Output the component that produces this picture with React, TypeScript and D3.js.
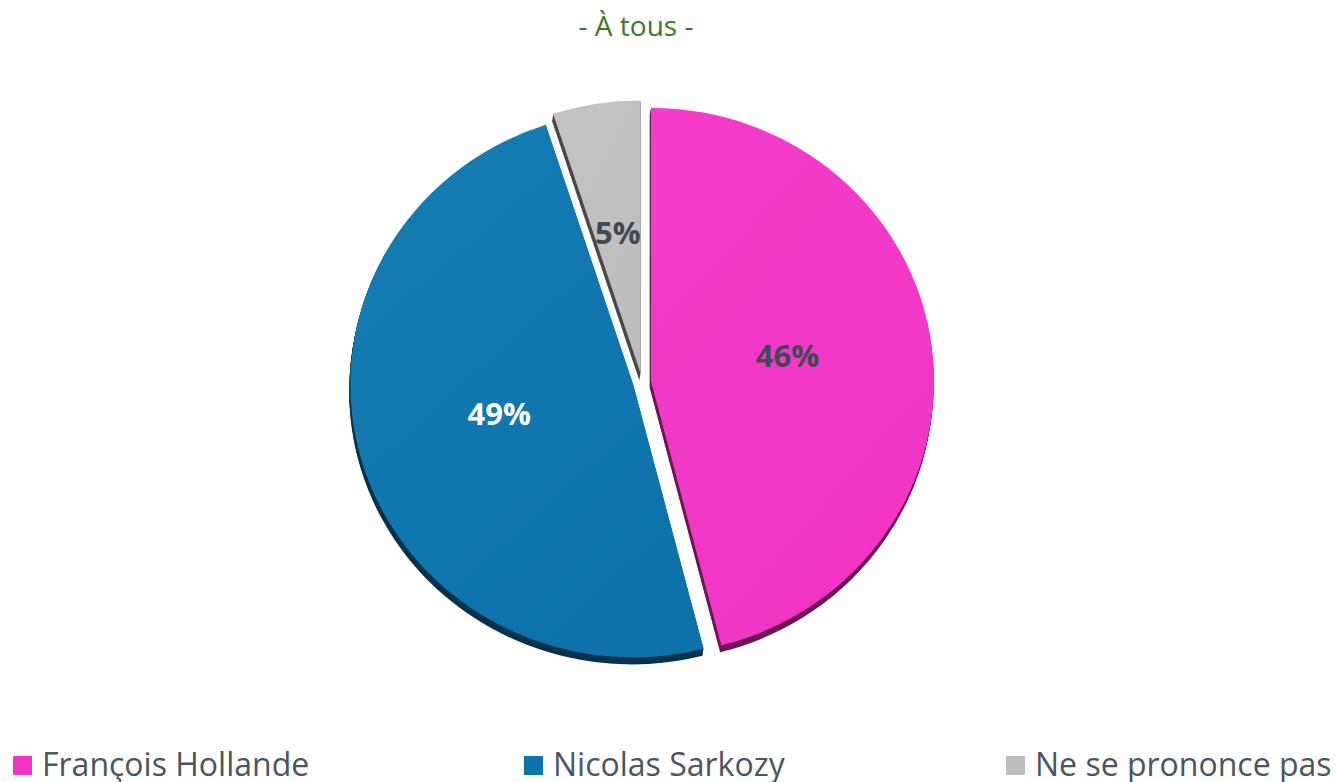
import React from "react";
import * as d3 from "d3";

const categories = ["François Hollande", "Nicolas Sarkozy", "Ne se prononce pas"];
const values = [46, 49, 5];
const labels = ["46%", "49%", "5%"];
const colors = ["#f035c4", "#0d72aa", "#bdbdbd"];
const lightColors = ["#f33dca", "#157db5", "#c3c3c3"];
const darkColors = ["#6c1552", "#07324d", "#484848"];
const labelColors = ["#3f4a55", "#ffffff", "#3f4a55"];
const title = "- À tous -";

const W = 1336;
const H = 782;

export default function App() {
  const cx = 642;
  const cy = 382;
  const ry = 273;
  const rx = 283;
  const sx = rx / ry;
  const explode = 8.7;
  const depth = 7;
  const depthX = -1.2;

  const pie = d3.pie<number>().sort(null).value((d) => d);
  const arcs = pie(values);
  const arcGen = d3.arc<d3.PieArcDatum<number>>().innerRadius(0).outerRadius(ry);

  const legendX = [13, 524, 1006];

  return (
    <svg
      width={W}
      height={H}
      style={{ position: "absolute", left: 0, top: 0, background: "#fff" }}
    >
      <defs>
        {arcs.map((a, i) => (
          <linearGradient key={i} id={`g${i}`} x1="0" y1="0" x2="0.6" y2="1">
            <stop offset="0" stopColor={lightColors[i]} />
            <stop offset="1" stopColor={colors[i]} />
          </linearGradient>
        ))}
      </defs>
      <text
        x={636}
        y={36}
        textAnchor="middle"
        fontFamily="'Open Sans', sans-serif"
        fontSize={28}
        fill="#3b7a1f"
      >
        {title}
      </text>
      <g transform={`translate(${cx},${cy}) scale(${sx},1)`}>
        {arcs.map((a, i) => {
          const mid = (a.startAngle + a.endAngle) / 2;
          const ox = Math.sin(mid) * explode;
          const oy = -Math.cos(mid) * explode;
          const steps = d3.range(1, depth + 1);
          return (
            <g key={"s" + i} transform={`translate(${ox},${oy})`}>
              {steps.map((s) => (
                <path
                  key={s}
                  d={arcGen(a) || ""}
                  transform={`translate(${(depthX * s) / depth / sx},${s})`}
                  fill={darkColors[i]}
                />
              ))}
            </g>
          );
        })}
        {arcs.map((a, i) => {
          const mid = (a.startAngle + a.endAngle) / 2;
          const ox = Math.sin(mid) * explode;
          const oy = -Math.cos(mid) * explode;
          return (
            <path
              key={"p" + i}
              d={arcGen(a) || ""}
              transform={`translate(${ox},${oy})`}
              fill={`url(#g${i})`}
            />
          );
        })}
      </g>
      {arcs.map((a, i) => {
        const mid = (a.startAngle + a.endAngle) / 2;
        const k = explode / ry + 0.49;
        const lx = cx + Math.sin(mid) * rx * k;
        const ly = cy - Math.cos(mid) * ry * k;
        return (
          <text
            key={"l" + i}
            x={lx - 1}
            y={ly + 3}
            textAnchor="middle"
            fontFamily="'Open Sans', sans-serif"
            fontWeight="bold"
            fontSize={31}
            fill={labelColors[i]}
          >
            {labels[i]}
          </text>
        );
      })}
      {categories.map((c, i) => (
        <g key={"lg" + i}>
          <rect x={legendX[i]} y={756} width={19} height={19} fill={colors[i]} />
          <text
            x={legendX[i] + 29}
            y={776}
            fontFamily="'Open Sans', sans-serif"
            fontSize={32}
            fill="#4a5560"
          >
            {c}
          </text>
        </g>
      ))}
    </svg>
  );
}
